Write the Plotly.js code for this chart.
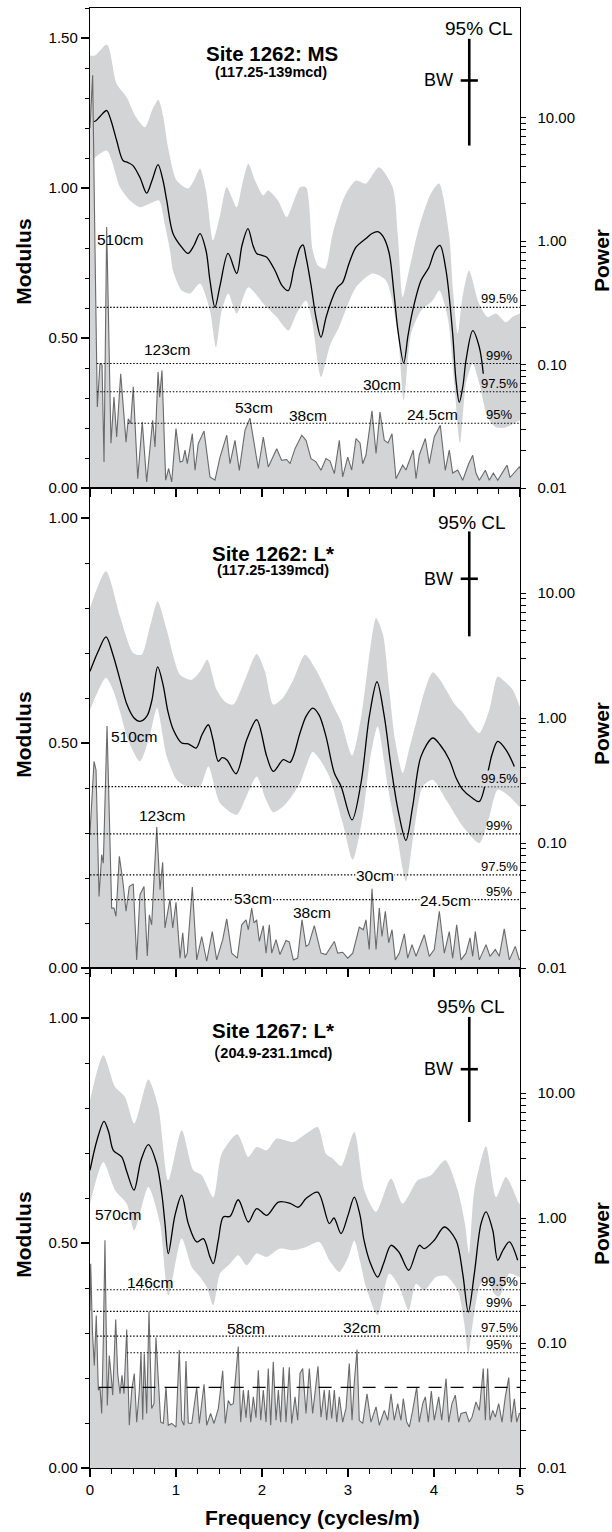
<!DOCTYPE html>
<html><head><meta charset="utf-8">
<script src="https://cdn.plot.ly/plotly-3.0.1.min.js"></script>
<style>html,body{margin:0;padding:0;background:#fff}</style>
</head><body>
<div id="chart" style="width:612px;height:1532px"></div>
<script>
// ================= DATA =================
// ---- Panel A: Site 1262 MS (117.25-139 mcd) ----
const a_specF = [0,0.031,0.058,0.085,0.116,0.14,0.163,0.194,0.244,0.279,0.31,0.357,0.419,0.445,0.473,0.503,0.555,0.608,0.659,0.729,0.756,0.791,0.81,0.837,0.88,0.915,0.95,1.0,1.047,1.078,1.105,1.131,1.19,1.221,1.259,1.326,1.395,1.453,1.512,1.59,1.628,1.686,1.736,1.802,1.86,1.899,1.957,2.015,2.073,2.171,2.229,2.287,2.326,2.384,2.462,2.512,2.57,2.628,2.686,2.744,2.791,2.841,2.899,2.938,2.997,3.043,3.093,3.14,3.171,3.209,3.241,3.279,3.326,3.372,3.422,3.465,3.512,3.558,3.636,3.674,3.759,3.791,3.829,3.899,3.945,4.003,4.073,4.131,4.178,4.217,4.276,4.334,4.403,4.45,4.488,4.527,4.597,4.643,4.69,4.741,4.799,4.849,4.884,4.934,4.992,5.0];
const a_specMod = [1.2,1.376,0.8,0.27,0.415,0.41,0.087,0.87,0.149,0.303,0.17,0.381,0.153,0.231,0.215,0.337,0.031,0.22,0.02,0.226,0.137,0.387,0.303,0.392,0.026,0.065,0.02,0.198,0.087,0.09,0.126,0.081,0.181,0.059,0.148,0.19,0.037,0.026,0.103,0.176,0.081,0.159,0.059,0.192,0.233,0.17,0.065,0.17,0.07,0.131,0.092,0.095,0.081,0.131,0.176,0.159,0.098,0.087,0.059,0.098,0.09,0.048,0.159,0.037,0.103,0.06,0.165,0.15,0.081,0.11,0.187,0.257,0.115,0.253,0.159,0.15,0.181,0.031,0.076,0.06,0.126,0.031,0.11,0.165,0.081,0.17,0.209,0.059,0.126,0.05,0.06,0.026,0.081,0.109,0.05,0.026,0.059,0.026,0.05,0.026,0.053,0.076,0.035,0.053,0.07,0.065];
const a_smoothF = [0,0.058,0.116,0.194,0.244,0.31,0.384,0.442,0.5,0.581,0.659,0.721,0.791,0.849,0.892,0.965,1.066,1.14,1.209,1.279,1.349,1.395,1.453,1.512,1.605,1.706,1.767,1.837,1.895,1.938,2.0,2.055,2.151,2.233,2.306,2.372,2.442,2.477,2.512,2.57,2.628,2.686,2.744,2.826,2.88,2.938,3.012,3.093,3.209,3.279,3.345,3.407,3.477,3.535,3.581,3.648,3.698,3.752,3.849,3.942,4.012,4.07,4.14,4.217,4.256,4.294,4.337,4.372,4.45,4.527,4.573];
const a_smoothPow = [9.33,9.33,10.2,11.4,9.46,6.51,4.49,4.32,4.08,3.27,2.44,3.09,4.16,3.09,2.13,1.15,0.891,0.793,0.92,1.15,0.838,0.479,0.291,0.436,0.793,0.546,0.92,1.26,0.92,0.793,0.764,0.74,0.577,0.436,0.397,0.6,0.88,0.93,0.74,0.44,0.24,0.166,0.24,0.356,0.423,0.463,0.658,0.891,1.05,1.15,1.19,1.09,0.807,0.376,0.188,0.103,0.172,0.273,0.479,0.614,0.838,0.92,0.577,0.178,0.0741,0.0495,0.0676,0.108,0.188,0.138,0.0841];
const a_upperF = [0,0.058,0.198,0.31,0.427,0.523,0.64,0.721,0.794,0.849,0.907,1.008,1.14,1.209,1.279,1.349,1.43,1.512,1.59,1.706,1.767,1.841,1.919,2.015,2.07,2.186,2.287,2.372,2.442,2.512,2.59,2.651,2.733,2.822,2.965,3.093,3.209,3.36,3.52,3.578,3.636,3.709,3.826,3.953,4.058,4.174,4.221,4.276,4.326,4.407,4.523,4.624,4.721,4.837,4.919,5.0];
const a_upperPow = [31.8,31.8,39.0,18.8,14.6,10.4,8.34,11.4,13.9,10.4,5.75,3.09,2.66,3.09,3.86,2.56,1.01,1.61,2.73,1.88,2.81,4.22,3.09,2.34,2.56,2.13,1.56,2.13,2.73,2.73,0.838,0.634,0.598,1.15,2.34,3.09,2.92,3.96,2.73,1.15,0.351,0.577,1.29,2.34,2.92,1.15,0.397,0.178,0.33,0.577,0.312,0.242,0.259,0.22,0.245,0.259];
const a_lowerF = [0,0.194,0.349,0.465,0.581,0.698,0.802,0.872,0.93,0.965,1.066,1.163,1.279,1.395,1.465,1.531,1.608,1.706,1.841,2.015,2.171,2.306,2.403,2.512,2.581,2.686,2.791,2.895,3.093,3.287,3.442,3.578,3.648,3.733,3.849,3.985,4.062,4.159,4.236,4.302,4.372,4.45,4.527,4.624,4.721,4.837,4.992,5.0];
const a_lowerPow = [4.35,5.41,2.73,2.13,1.88,2.01,2.13,1.34,0.838,0.577,0.397,0.376,0.453,0.273,0.138,0.273,0.376,0.259,0.423,0.312,0.242,0.188,0.259,0.33,0.227,0.0789,0.143,0.2,0.423,0.546,0.479,0.178,0.0512,0.178,0.273,0.33,0.397,0.242,0.0702,0.0231,0.0702,0.102,0.0702,0.0374,0.031,0.031,0.0352,0.0352];
const a_levels = [0.602,0.415,0.321,0.216];
const a_levelStartF = [0.08,0.08,0.08,0.44];
const a_clF = [4.41,4.41], a_clPow = [5.93,43.4];
const a_bwF = [4.31,4.51], a_bwPow = [19.95,19.95];
const a_periodText = ['510cm','123cm','53cm','38cm','30cm','24.5cm'];
const a_periodF = [0.36,0.901,1.907,2.535,3.395,3.977];
const a_periodMod = [0.829,0.462,0.27,0.242,0.346,0.246];

// ---- Panel B: Site 1262 L* (117.25-139 mcd) ----
const b_specF = [0,0.047,0.07,0.105,0.136,0.155,0.198,0.252,0.279,0.302,0.341,0.38,0.419,0.457,0.503,0.543,0.581,0.628,0.666,0.69,0.717,0.776,0.814,0.845,0.872,0.93,0.962,1.0,1.047,1.078,1.105,1.131,1.19,1.241,1.299,1.357,1.422,1.473,1.543,1.59,1.648,1.713,1.764,1.814,1.841,1.88,1.907,1.938,1.969,2.015,2.047,2.085,2.113,2.163,2.209,2.279,2.317,2.364,2.415,2.465,2.512,2.543,2.608,2.686,2.744,2.841,2.88,2.938,2.997,3.055,3.131,3.178,3.209,3.247,3.279,3.326,3.364,3.395,3.434,3.473,3.512,3.55,3.597,3.655,3.694,3.744,3.791,3.887,3.945,4.003,4.062,4.12,4.178,4.217,4.264,4.314,4.372,4.419,4.45,4.48,4.527,4.605,4.651,4.713,4.759,4.817,4.876,4.945,4.992,5.0];
const b_specMod = [0.3,0.459,0.44,0.159,0.252,0.233,0.538,0.133,0.133,0.115,0.248,0.196,0.126,0.181,0.187,0.018,0.163,0.181,0.027,0.118,0.096,0.313,0.174,0.235,0.089,0.153,0.089,0.146,0.022,0.078,0.022,0.033,0.18,0.018,0.07,0.015,0.081,0.018,0.063,0.109,0.033,0.022,0.096,0.107,0.085,0.133,0.1,0.107,0.059,0.094,0.033,0.096,0.033,0.063,0.03,0.061,0.058,0.018,0.022,0.107,0.048,0.052,0.094,0.033,0.03,0.059,0.033,0.035,0.022,0.033,0.091,0.085,0.107,0.041,0.176,0.041,0.133,0.07,0.126,0.056,0.085,0.018,0.033,0.076,0.022,0.052,0.026,0.074,0.026,0.041,0.126,0.033,0.081,0.022,0.096,0.018,0.033,0.067,0.026,0.081,0.018,0.052,0.026,0.041,0.026,0.087,0.018,0.048,0.018,0.02];
const b_smoothF = [0,0.093,0.186,0.267,0.349,0.43,0.512,0.581,0.663,0.721,0.787,0.849,0.907,0.969,1.066,1.143,1.233,1.302,1.376,1.43,1.492,1.535,1.59,1.698,1.822,1.938,2.055,2.131,2.248,2.326,2.442,2.512,2.59,2.663,2.744,2.841,2.919,3.047,3.151,3.248,3.337,3.422,3.5,3.581,3.674,3.752,3.849,3.985,4.07,4.178,4.256,4.334,4.442,4.527,4.624,4.674,4.741,4.837,4.934];
const b_smoothPow = [2.36,3.39,4.45,3.21,2.02,1.28,1.0,0.94,1.04,1.4,2.56,1.85,1.12,0.805,0.631,0.622,0.575,0.734,0.883,0.67,0.45,0.481,0.464,0.358,0.67,0.968,0.493,0.374,0.464,0.442,0.759,1.03,1.2,1.06,0.713,0.363,0.284,0.153,0.302,1.03,1.95,1.03,0.41,0.185,0.105,0.196,0.493,0.692,0.611,0.464,0.333,0.267,0.23,0.215,0.363,0.508,0.65,0.557,0.41];
const b_upperF = [0,0.186,0.349,0.503,0.601,0.698,0.787,0.892,1.047,1.183,1.279,1.364,1.473,1.57,1.666,1.802,1.938,2.035,2.131,2.244,2.364,2.5,2.628,2.744,2.841,2.919,3.047,3.151,3.256,3.326,3.407,3.48,3.547,3.636,3.709,3.791,3.895,3.985,4.07,4.14,4.244,4.334,4.43,4.527,4.643,4.741,4.826,4.915,5.0];
const b_upperPow = [7.59,14.9,6.5,3.31,3.21,5.41,8.57,5.08,2.22,2.02,2.35,2.93,1.68,1.35,1.28,2.02,3.25,2.35,1.28,1.45,2.02,3.21,2.43,1.68,1.2,0.94,0.5,1.0,3.5,6.31,4.64,1.68,0.67,0.363,0.557,0.912,1.68,2.32,2.02,1.68,1.28,1.1,0.883,0.759,1.16,2.15,1.95,1.68,1.22];
const b_lowerF = [0,0.186,0.267,0.349,0.442,0.581,0.698,0.779,0.892,1.008,1.124,1.279,1.376,1.512,1.706,1.826,1.938,2.047,2.131,2.267,2.442,2.512,2.59,2.674,2.782,2.938,3.055,3.171,3.256,3.345,3.462,3.578,3.674,3.771,3.869,3.985,4.14,4.334,4.527,4.643,4.741,4.876,4.992,5.0];
const b_lowerPow = [1.16,2.1,1.68,1.12,0.67,0.45,0.734,1.2,0.493,0.321,0.284,0.284,0.41,0.209,0.168,0.243,0.341,0.222,0.176,0.202,0.302,0.41,0.537,0.464,0.341,0.145,0.0735,0.163,0.464,0.857,0.284,0.106,0.0493,0.128,0.284,0.321,0.222,0.136,0.1,0.163,0.267,0.236,0.196,0.195];
const b_levels = [0.403,0.298,0.207,0.152];
const b_levelStartF = [0.02,0.0,0.0,0.25];
const b_clF = [4.41,4.41], b_clPow = [4.5,31.1];
const b_bwF = [4.31,4.51], b_bwPow = [13.0,13.0];
const b_periodText = ['510cm','123cm','53cm','38cm','30cm','24.5cm'];
const b_periodF = [0.523,0.843,1.89,2.581,3.314,4.128];
const b_periodMod = [0.515,0.338,0.155,0.124,0.206,0.15];
const b_periodBoxed = [false,false,true,false,true,true];

// ---- Panel C: Site 1267 L* (204.9-231.1 mcd) ----
const c_specF = [0,0.008,0.029,0.05,0.073,0.097,0.116,0.136,0.155,0.174,0.201,0.224,0.244,0.264,0.299,0.322,0.349,0.372,0.395,0.427,0.457,0.485,0.515,0.543,0.573,0.593,0.613,0.631,0.659,0.686,0.717,0.744,0.767,0.794,0.822,0.852,0.884,0.91,0.95,1.0,1.038,1.066,1.093,1.116,1.143,1.183,1.241,1.271,1.326,1.357,1.403,1.442,1.492,1.543,1.573,1.608,1.636,1.666,1.698,1.724,1.752,1.783,1.814,1.841,1.869,1.899,1.93,1.957,1.985,2.015,2.047,2.073,2.101,2.131,2.163,2.19,2.217,2.248,2.279,2.317,2.345,2.384,2.415,2.442,2.473,2.512,2.55,2.589,2.651,2.686,2.724,2.752,2.783,2.81,2.841,2.869,2.899,2.938,2.977,3.015,3.047,3.073,3.105,3.131,3.171,3.221,3.267,3.326,3.364,3.422,3.462,3.5,3.538,3.578,3.616,3.643,3.683,3.713,3.752,3.799,3.829,3.869,3.899,3.934,3.969,4.003,4.055,4.09,4.14,4.171,4.209,4.248,4.287,4.314,4.372,4.41,4.442,4.488,4.527,4.573,4.597,4.624,4.651,4.683,4.713,4.752,4.791,4.829,4.869,4.899,4.934,4.962,4.992,5.0];
const c_specMod = [0.35,0.454,0.3,0.228,0.339,0.173,0.18,0.121,0.284,0.506,0.139,0.25,0.21,0.162,0.33,0.21,0.165,0.206,0.165,0.308,0.095,0.173,0.21,0.102,0.17,0.256,0.107,0.254,0.121,0.347,0.132,0.143,0.29,0.195,0.102,0.099,0.18,0.095,0.099,0.091,0.262,0.106,0.095,0.238,0.1,0.099,0.18,0.099,0.186,0.095,0.121,0.099,0.132,0.216,0.099,0.15,0.14,0.143,0.213,0.27,0.102,0.173,0.112,0.173,0.102,0.158,0.112,0.217,0.106,0.173,0.102,0.221,0.095,0.236,0.106,0.173,0.102,0.224,0.102,0.224,0.099,0.158,0.106,0.21,0.221,0.121,0.221,0.121,0.226,0.113,0.173,0.106,0.173,0.11,0.173,0.102,0.158,0.102,0.133,0.232,0.106,0.19,0.263,0.106,0.099,0.165,0.102,0.136,0.095,0.128,0.106,0.165,0.106,0.143,0.106,0.154,0.102,0.091,0.128,0.18,0.102,0.143,0.158,0.102,0.171,0.106,0.158,0.106,0.199,0.102,0.143,0.162,0.102,0.121,0.124,0.102,0.113,0.147,0.128,0.221,0.106,0.221,0.106,0.128,0.113,0.143,0.102,0.158,0.201,0.102,0.154,0.102,0.121,0.12];
const c_smoothF = [0,0.081,0.163,0.218,0.271,0.368,0.43,0.512,0.593,0.678,0.775,0.837,0.872,0.91,0.988,1.066,1.143,1.241,1.318,1.395,1.434,1.492,1.55,1.628,1.724,1.841,1.938,2.055,2.19,2.326,2.422,2.512,2.648,2.783,2.837,2.919,3.0,3.073,3.14,3.186,3.256,3.345,3.419,3.5,3.593,3.706,3.829,3.887,4.003,4.12,4.256,4.334,4.399,4.469,4.547,4.605,4.683,4.741,4.802,4.876,4.973];
const c_smoothPow = [2.41,4.19,5.94,4.85,3.48,3.08,2.32,1.67,2.9,3.87,2.72,1.52,0.902,0.519,1.05,1.52,0.902,0.643,0.684,0.488,0.431,0.664,1.02,1.03,1.4,0.929,1.19,1.05,1.34,1.31,1.22,1.43,1.61,0.902,1.0,0.75,1.05,1.47,1.05,0.664,0.443,0.337,0.443,0.605,0.532,0.382,0.605,0.569,0.664,0.847,0.664,0.359,0.177,0.359,0.902,1.12,0.798,0.459,0.552,0.643,0.459];
const c_upperF = [0,0.155,0.291,0.407,0.515,0.678,0.794,0.91,1.066,1.201,1.299,1.434,1.531,1.713,1.841,1.938,2.055,2.171,2.364,2.512,2.648,2.744,2.822,2.92,3.073,3.19,3.326,3.5,3.636,3.81,3.965,4.131,4.276,4.36,4.407,4.469,4.605,4.721,4.837,4.992,5.0];
const c_upperPow = [8.75,20.0,11.2,9.29,5.69,12.8,7.73,2.0,5.03,2.41,2.2,1.47,3.27,4.68,3.08,3.7,3.48,4.32,4.06,4.73,5.35,3.27,2.99,2.6,4.88,1.67,1.12,2.07,1.3,2.0,2.2,2.9,1.67,0.9,0.522,1.67,3.75,1.47,2.13,1.3,1.3];
const c_lowerF = [0,0.155,0.291,0.427,0.515,0.678,0.814,0.91,1.066,1.183,1.279,1.357,1.434,1.512,1.628,1.724,1.822,1.938,2.055,2.209,2.364,2.512,2.666,2.783,2.899,3.0,3.073,3.14,3.209,3.345,3.48,3.597,3.706,3.791,3.887,4.023,4.14,4.276,4.352,4.399,4.45,4.527,4.605,4.701,4.759,4.875,4.992,5.0];
const c_lowerPow = [1.3,2.8,1.67,1.3,0.798,1.77,0.902,0.241,0.684,0.406,0.337,0.281,0.2,0.359,0.431,0.504,0.419,0.519,0.488,0.569,0.552,0.586,0.643,0.459,0.37,0.48,0.66,0.45,0.28,0.167,0.359,0.281,0.183,0.298,0.264,0.337,0.345,0.264,0.143,0.0822,0.143,0.281,0.337,0.248,0.234,0.359,0.337,0.337];
const c_levels = [0.396,0.348,0.293,0.256];
const c_levelStartF = [0.08,0.04,0.08,0.43];
const c_meanLevel = 0.179, c_meanStartF = 0.1;
const c_clF = [4.41,4.41], c_clPow = [5.86,40.6];
const c_bwF = [4.31,4.51], c_bwPow = [15.5,15.5];
const c_periodText = ['570cm','146cm','58cm','32cm'];
const c_periodF = [0.331,0.698,1.814,3.163];
const c_periodMod = [0.564,0.412,0.311,0.312];

const levelText = ['99.5%','99%','97.5%','95%'];
const powTickVals = [0.01,0.1,1,10];
const powTickText = ['0.01','0.10','1.00','10.00'];

// ================= DRAWING =================
const FONT = 'Liberation Sans, Arial, Helvetica, sans-serif';
const BAND = '#d3d4d6';
const SPEC = '#6a6a6a';
const DOT = '1.5px,1.8px';
const PAD = '\u00A0\u00A0'; // small gap between right-axis ticks and their labels

const powMinor = [];
[0.01,0.1,1].forEach(d => { for (let k = 2; k <= 9; k++) powMinor.push(+(d*k).toPrecision(3)); });

function panel(xa, yPow, yMod, d) {
  const base = {type:'scatter', mode:'lines', xaxis:xa, hoverinfo:'skip', showlegend:false};
  const t = [];
  t.push(Object.assign({}, base, {yaxis:yPow, x:d.loF, y:d.loP, line:{width:0, color:BAND, shape:'spline', smoothing:0.7}}));
  t.push(Object.assign({}, base, {yaxis:yPow, x:d.upF, y:d.upP, fill:'tonexty', fillcolor:BAND, line:{width:0, color:BAND, shape:'spline', smoothing:0.7}}));
  t.push(Object.assign({}, base, {yaxis:yPow, x:d.smF, y:d.smP, line:{width:1.3, color:'#000', shape:'spline', smoothing:0.9}}));
  t.push(Object.assign({}, base, {yaxis:yPow, x:d.clF, y:d.clP, line:{width:2.6, color:'#000'}}));
  t.push(Object.assign({}, base, {yaxis:yPow, x:d.bwF, y:d.bwP, line:{width:2.6, color:'#000'}}));
  t.push(Object.assign({}, base, {yaxis:yMod, x:d.specF, y:d.specM, fill:'tozeroy', fillcolor:BAND, line:{width:1.1, color:SPEC}}));
  d.levels.forEach((lv, i) => {
    t.push(Object.assign({}, base, {yaxis:yMod, x:[d.levStart[i], 5], y:[lv, lv], line:{width:1.1, color:'#000', dash:DOT}}));
  });
  if (d.mean !== undefined) {
    t.push(Object.assign({}, base, {yaxis:yMod, x:[d.meanStart, 5], y:[d.mean, d.mean], line:{width:1.2, color:'#000', dash:'13px,9px'}}));
  }
  return t;
}

const traces = [].concat(
  panel('x', 'y', 'y2', {loF:a_lowerF, loP:a_lowerPow, upF:a_upperF, upP:a_upperPow, smF:a_smoothF, smP:a_smoothPow, clF:a_clF, clP:a_clPow, bwF:a_bwF, bwP:a_bwPow, specF:a_specF, specM:a_specMod, levels:a_levels, levStart:a_levelStartF}),
  panel('x2', 'y3', 'y4', {loF:b_lowerF, loP:b_lowerPow, upF:b_upperF, upP:b_upperPow, smF:b_smoothF, smP:b_smoothPow, clF:b_clF, clP:b_clPow, bwF:b_bwF, bwP:b_bwPow, specF:b_specF, specM:b_specMod, levels:b_levels, levStart:b_levelStartF}),
  panel('x3', 'y5', 'y6', {loF:c_lowerF, loP:c_lowerPow, upF:c_upperF, upP:c_upperPow, smF:c_smoothF, smP:c_smoothPow, clF:c_clF, clP:c_clPow, bwF:c_bwF, bwP:c_bwPow, specF:c_specF, specM:c_specMod, levels:c_levels, levStart:c_levelStartF, mean:c_meanLevel, meanStart:c_meanStartF})
);

// ----- axes -----
const H = 1460; // plot-area height in px
const D1 = [980/H, 1], D2 = [500/H, 980/H], D3 = [0, 500/H];
const tickFont = {family:FONT, size:15, color:'#000'};
function xAxis(anchor, labels) {
  return {domain:[0,1], anchor, range:[0,5], showline:true, mirror:true, linecolor:'#000', linewidth:1.2,
    ticks:'outside', ticklen:8, tickwidth:1.2, tickcolor:'#000', tickmode:'linear', tick0:0, dtick:1,
    showticklabels:labels, tickfont:tickFont, showgrid:false, zeroline:false, fixedrange:true,
    minor:{tickmode:'linear', tick0:0, dtick:0.25, ticks:'outside', ticklen:5, tickwidth:1, tickcolor:'#000', showgrid:false}};
}
function powAxis(domain, anchor, top) {
  return {domain, anchor, type:'log', range:[-2, top], side:'right', showline:true, linecolor:'#000', linewidth:1.2,
    ticks:'outside', ticklen:5, tickwidth:1, tickcolor:'#000', tickmode:'array', tickvals:powTickVals,
    ticktext:powTickText.map(s => PAD + s),
    tickfont:tickFont, showgrid:false, zeroline:false, fixedrange:true,
    minor:{tickmode:'array', tickvals:powMinor, ticks:'outside', ticklen:5, tickwidth:1, tickcolor:'#000', showgrid:false}};
}
function modAxis(over, anchor, top) {
  return {overlaying:over, anchor, side:'left', range:[0, top], showline:true, linecolor:'#000', linewidth:1.2,
    ticks:'outside', ticklen:8, tickwidth:1.2, tickcolor:'#000', tickmode:'linear', tick0:0, dtick:0.5, tickformat:'.2f',
    tickfont:tickFont, showgrid:false, zeroline:false, fixedrange:true,
    minor:{tickmode:'linear', tick0:0, dtick:0.1, ticks:'outside', ticklen:4, tickwidth:1, tickcolor:'#000', showgrid:false}};
}

// ----- annotations -----
const ann = [];
function P(px, py) { return {x:(px-90)/430, y:(1468-py)/H}; }
function txt(text, px, py, size, extra) {
  const p = P(px, py);
  ann.push(Object.assign({xref:'paper', yref:'paper', x:p.x, y:p.y, text, showarrow:false,
    font:{family:FONT, size, color:'#000'}, xanchor:'center', yanchor:'middle'}, extra || {}));
}
// titles & keys
txt('<b>Site 1262: MS</b>', 272, 53, 20.5);
txt('<b>(117.25-139mcd)</b>', 271, 72, 14.5);
txt('<b>Site 1262: L*</b>', 273, 553, 20.5);
txt('<b>(117.25-139mcd)</b>', 273, 570, 14.5);
txt('<b>Site 1267: L*</b>', 273, 1030, 20.5);
txt('<span style="font-size:19px">(</span><b>204.9-231.1mcd)</b>', 273, 1051, 14.5);
txt('95% CL', 479, 28, 19);
txt('95% CL', 472, 522, 19);
txt('95% CL', 471, 1006, 19);
txt('BW', 455, 80, 18, {xanchor:'right'});
txt('BW', 455, 579, 18, {xanchor:'right'});
txt('BW', 455, 1069, 18, {xanchor:'right'});
// axis titles
[262, 735, 1235].forEach(py => txt('<b>Modulus</b>', 22.7, py, 21, {textangle:-90}));
[261, 734, 1234].forEach(py => txt('<b>Power</b>', 601, py, 21, {textangle:-90}));
txt('<b>Frequency (cycles/m)</b>', 312, 1517, 21);

// period labels (data coords)
function periods(xref, yref, texts, fs, ms, boxed) {
  texts.forEach((t, i) => ann.push({xref, yref, x:fs[i], y:ms[i], text:t, showarrow:false,
    font:{family:FONT, size:15.5, color:'#000'}, xanchor:'center', yanchor:'middle',
    bgcolor: (boxed && boxed[i]) ? '#ffffff' : 'rgba(0,0,0,0)', borderpad:0}));
}
periods('x', 'y2', a_periodText, a_periodF, a_periodMod);
periods('x2', 'y4', b_periodText, b_periodF, b_periodMod, b_periodBoxed);
periods('x3', 'y6', c_periodText, c_periodF, c_periodMod);

// confidence level labels
function levelLabels(xref, yref, levels, bgFirst) {
  levels.forEach((lv, i) => ann.push({xref, yref, x:4.76, y:lv, text:levelText[i], showarrow:false,
    font:{family:FONT, size:13, color:'#000'}, xanchor:'center', yanchor:'bottom', borderpad:0,
    bgcolor: (bgFirst && i === 0) ? '#d8d9dd' : 'rgba(0,0,0,0)'}));
}
levelLabels('x', 'y2', a_levels);
levelLabels('x2', 'y4', b_levels, true);
levelLabels('x3', 'y6', c_levels);

const layout = {
  width:612, height:1532, autosize:false,
  margin:{l:90, r:92, t:8, b:64, pad:0},
  paper_bgcolor:'#fff', plot_bgcolor:'#fff',
  showlegend:false, hovermode:false,
  font:{family:FONT, color:'#000'},
  xaxis: xAxis('y', false),
  yaxis: powAxis(D1, 'x', 1.887),
  yaxis2: modAxis('y', 'x', 1.6),
  xaxis2: xAxis('y3', false),
  yaxis3: powAxis(D2, 'x2', 1.84),
  yaxis4: modAxis('y3', 'x2', 480/450),
  xaxis3: xAxis('y5', true),
  yaxis5: powAxis(D3, 'x3', 2.0),
  yaxis6: modAxis('y5', 'x3', 500/450),
  annotations: ann
};

Plotly.newPlot('chart', traces, layout, {staticPlot:true, displayModeBar:false});
</script>
</body></html>
